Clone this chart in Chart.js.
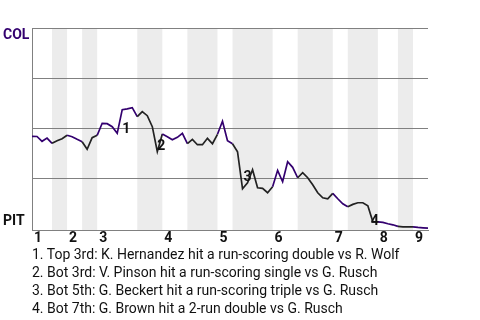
<!DOCTYPE html>
<html><head><meta charset="utf-8">
<script src="https://cdn.jsdelivr.net/npm/chart.js@4"></script>
<style>
html,body{margin:0;padding:0;background:#fff;}
#wrap{position:relative;width:480px;height:320px;overflow:hidden;}
#notes{position:absolute;left:32px;top:245px;font:14px Roboto, sans-serif;line-height:18px;color:#111;white-space:nowrap;}
</style></head><body>
<div id="wrap"><canvas id="c" width="480" height="320"></canvas>
<div id="notes"></div></div>
<script>
// Win probability for COL (percent) after each play, play index 0..79
const winProb = [45.9,45.8,43.4,45.0,42.4,43.7,44.7,46.4,45.7,44.4,
  43.2,39.4,45.2,46.4,52.4,52.2,50.7,47.4,59.2,59.6,
  60.2,55.7,58.2,56.2,50.7,38.2,47.0,45.7,44.2,45.4,
  47.4,42.2,44.4,41.7,41.7,44.9,42.2,46.9,53.4,43.7,
  42.2,38.2,19.7,22.7,29.2,20.2,19.9,17.7,20.7,28.9,
  23.2,33.2,30.4,25.2,27.7,25.2,21.7,17.7,15.2,14.7,
  17.4,14.7,12.2,10.7,11.9,12.7,12.7,11.2,3.2,3.2,
  2.9,2.2,1.7,0.9,0.7,0.7,0.7,0.4,0.2,0];
const plays = winProb.map((_, i) => i);
const topHalfStarts = [0,7,13,26,37,48,60,69,76];
const bottomHalfStarts = [4,10,21,31,40,53,63,73];
const inningLabels = ['1','2','3','4','5','6','7','8','9'];
const awayTeam = 'COL';
const homeTeam = 'PIT';
const scoringIdx = [17,25,42,68];
const scoringMarks = ['1','2','3','4'];
const scoringNotes = [
  '1. Top 3rd: K. Hernandez hit a run-scoring double vs R. Wolf',
  '2. Bot 3rd: V. Pinson hit a run-scoring single vs G. Rusch',
  '3. Bot 5th: G. Beckert hit a run-scoring triple vs G. Rusch',
  '4. Bot 7th: G. Brown hit a 2-run double vs G. Rusch'
];
const markOffsets = [[9,-3.5],[4,-5],[5,-11],[2,0]];

const PURPLE = '#33006F', DARK = '#222222', GRID = '#808080';

function isBottomHalf(i){
  let last = -1, bottom = false;
  topHalfStarts.forEach(s => { if (s <= i && s > last){ last = s; bottom = false; } });
  bottomHalfStarts.forEach(s => { if (s <= i && s > last){ last = s; bottom = true; } });
  return bottom;
}

const gamePlugin = {
  id: 'game',
  beforeDraw(chart){
    const {ctx, chartArea: a, scales: {x}} = chart;
    ctx.save();
    ctx.fillStyle = '#ececec';
    bottomHalfStarts.forEach(s => {
      const nxt = topHalfStarts.find(t => t > s);
      const e = nxt === undefined ? x.max : nxt;
      const x0 = x.getPixelForValue(s), x1 = x.getPixelForValue(e);
      ctx.fillRect(x0, a.top, x1 - x0, a.bottom - a.top);
    });
    ctx.restore();
  },
  afterDatasetsDraw(chart){
    const {ctx, scales: {x, y}} = chart;
    ctx.save();
    ctx.font = 'bold 14px Roboto, sans-serif';
    ctx.textAlign = 'center';
    ctx.textBaseline = 'middle';
    ctx.fillStyle = '#111';
    scoringIdx.forEach((k, i) => {
      const px = x.getPixelForValue(plays[k]) + markOffsets[i][0];
      const py = y.getPixelForValue(winProb[k]) + markOffsets[i][1];
      ctx.fillText(scoringMarks[i], px, py);
    });
    ctx.textAlign = 'left';
    ctx.fillStyle = PURPLE;
    ctx.fillText(awayTeam, 3, y.getPixelForValue(100) + 7);
    ctx.fillStyle = '#111';
    ctx.fillText(homeTeam, 3, y.getPixelForValue(0) - 7);
    ctx.restore();
  }
};

new Chart(document.getElementById('c'), {
  type: 'line',
  data: {
    labels: plays,
    datasets: [{
      data: plays.map((p, i) => ({x: p, y: winProb[i]})),
      borderWidth: 1.7,
      pointRadius: 0,
      tension: 0,
      fill: false,
      borderColor: PURPLE,
      segment: {
        borderColor: ctx => isBottomHalf(ctx.p0DataIndex) ? DARK : PURPLE
      }
    }]
  },
  options: {
    responsive: false,
    animation: false,
    layout: {padding: {left: 32, top: 28, right: 52, bottom: 73}},
    plugins: {legend: {display: false}, tooltip: {enabled: false}, title: {display: false}},
    scales: {
      x: {
        type: 'linear', min: 0, max: plays.length - 1,
        grid: {display: false, drawTicks: false},
        border: {display: true, color: GRID, width: 1},
        afterBuildTicks: s => { s.ticks = topHalfStarts.map(v => ({value: v})); },
        ticks: {
          align: 'start', padding: 0, maxRotation: 0, autoSkip: false, labelOffset: 2,
          color: '#111', font: {family: 'Roboto, sans-serif', size: 14, weight: 'bold'},
          callback: (v, i) => inningLabels[i]
        }
      },
      y: {
        min: -1, max: 100,
        afterBuildTicks: s => { s.ticks = [0,25,50,75,100].map(v => ({value: v})); },
        grid: {drawTicks: false, color: c => c.tick && c.tick.value === 0 ? 'rgba(0,0,0,0)' : GRID},
        border: {display: true, color: GRID, width: 1},
        ticks: {display: false}
      }
    }
  },
  plugins: [gamePlugin]
});

const notes = document.getElementById('notes');
scoringNotes.forEach(t => { const d = document.createElement('div'); d.textContent = t; notes.appendChild(d); });
</script>
</body></html>
